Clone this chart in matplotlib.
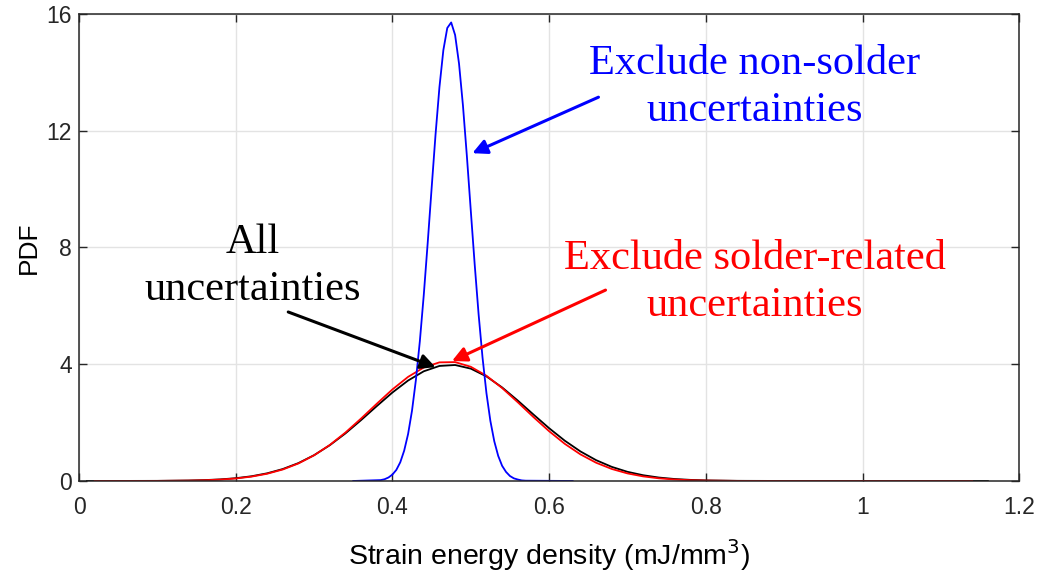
import matplotlib
matplotlib.use('Agg')
import matplotlib.pyplot as plt

# PDF curves
x_blue = [0.35, 0.385, 0.39, 0.395, 0.40, 0.405, 0.41, 0.415, 0.42, 0.425, 0.43, 0.435,
          0.44, 0.445, 0.45, 0.455, 0.46, 0.465, 0.47, 0.475, 0.48, 0.485, 0.49, 0.495,
          0.50, 0.505, 0.51, 0.515, 0.52, 0.525, 0.53, 0.535, 0.54, 0.545, 0.55, 0.555,
          0.56, 0.565, 0.57, 0.63]
y_blue = [0.0, 0.03, 0.06, 0.12, 0.22, 0.38, 0.64, 1.04, 1.61, 2.41, 3.47, 4.79,
          6.37, 8.15, 10.02, 11.86, 13.49, 14.76, 15.52, 15.71, 15.28, 14.30, 12.87, 11.14,
          9.27, 7.42, 5.71, 4.23, 3.01, 2.06, 1.36, 0.86, 0.52, 0.31, 0.17, 0.09,
          0.05, 0.02, 0.01, 0.0]

x_red = [0.02, 0.10, 0.14, 0.16, 0.18, 0.20, 0.22, 0.24, 0.26, 0.28, 0.30, 0.32, 0.34,
         0.36, 0.38, 0.40, 0.42, 0.44, 0.46, 0.48, 0.50, 0.52, 0.54, 0.56, 0.58, 0.60,
         0.62, 0.64, 0.66, 0.68, 0.70, 0.72, 0.74, 0.76, 0.78, 0.80, 0.84, 0.90, 1.14]
y_red = [0.0, 0.003, 0.013, 0.025, 0.048, 0.086, 0.149, 0.247, 0.393, 0.600, 0.879, 1.233, 1.659,
         2.140, 2.646, 3.137, 3.567, 3.888, 4.064, 4.073, 3.913, 3.605, 3.184, 2.697, 2.189, 1.705,
         1.272, 0.911, 0.625, 0.411, 0.259, 0.157, 0.091, 0.051, 0.027, 0.014, 0.003, 0.0, 0.0]

x_black = [0.01, 0.10, 0.14, 0.16, 0.18, 0.20, 0.22, 0.24, 0.26, 0.28, 0.30, 0.32, 0.34,
           0.36, 0.38, 0.40, 0.42, 0.44, 0.46, 0.48, 0.50, 0.52, 0.54, 0.56, 0.58, 0.60,
           0.62, 0.64, 0.66, 0.68, 0.70, 0.72, 0.74, 0.76, 0.78, 0.80, 0.84, 0.90, 1.16]
y_black = [0.0, 0.004, 0.016, 0.030, 0.054, 0.095, 0.161, 0.262, 0.409, 0.613, 0.884, 1.224, 1.630,
           2.086, 2.565, 3.031, 3.442, 3.758, 3.941, 3.973, 3.849, 3.583, 3.205, 2.755, 2.277, 1.808,
           1.380, 1.012, 0.713, 0.483, 0.314, 0.197, 0.118, 0.068, 0.038, 0.020, 0.005, 0.001, 0.0]

x_ticks = [0, 0.2, 0.4, 0.6, 0.8, 1.0, 1.2]
x_ticklabels = ['0', '0.2', '0.4', '0.6', '0.8', '1', '1.2']
y_ticks = [0, 4, 8, 12, 16]

fig = plt.figure(figsize=(10.4, 5.73), dpi=100)
ax = fig.add_axes([0.076, 0.1606, 0.904, 0.815])

ax.plot(x_black, y_black, color='black', lw=1.3)
ax.plot(x_red, y_red, color='red', lw=1.3)
ax.plot(x_blue, y_blue, color='blue', lw=1.3)

ax.set_xlim(0, 1.2)
ax.set_ylim(0, 16)
ax.set_xticks(x_ticks)
ax.set_xticklabels(x_ticklabels)
ax.set_yticks(y_ticks)
ax.grid(True, color='#e3e3e3', lw=1)
ax.set_axisbelow(True)
ax.tick_params(direction='in', top=True, right=True, length=6, width=1,
               colors='#262626', labelsize=16.5, labelcolor='#262626')
ax.tick_params(axis='x', pad=11)
ax.tick_params(axis='y', pad=5)
for sp in ax.spines.values():
    sp.set_color('#262626')
    sp.set_linewidth(1.1)
for lab in ax.get_xticklabels() + ax.get_yticklabels():
    lab.set_family('Liberation Sans')

ax.set_xlabel('Strain energy density (mJ/mm$^3$)', fontsize=20.5, family='Liberation Sans',
              labelpad=13)
ax.set_ylabel('PDF', fontsize=19, family='Liberation Sans', labelpad=4)

serif = dict(family='Liberation Serif', fontsize=30.5, ha='center', va='center',
             linespacing=1.3)
ax.text(0.862, 13.5, 'Exclude non-solder\nuncertainties', color='blue', **serif)
ax.text(0.222, 7.35, 'All\nuncertainties', color='black', **serif)
ax.text(0.863, 6.8, 'Exclude solder-related\nuncertainties', color='red', **serif)

arrow = dict(arrowstyle='-|>', lw=2.2, mutation_scale=22, shrinkA=0, shrinkB=0)
ax.annotate('', xy=(0.502, 11.23), xytext=(0.663, 13.15),
            arrowprops=dict(color='blue', **arrow))
ax.annotate('', xy=(0.455, 3.9), xytext=(0.267, 5.79),
            arrowprops=dict(color='black', **arrow))
ax.annotate('', xy=(0.476, 4.11), xytext=(0.672, 6.54),
            arrowprops=dict(color='red', **arrow))

fig.savefig('out.png', dpi=100)
